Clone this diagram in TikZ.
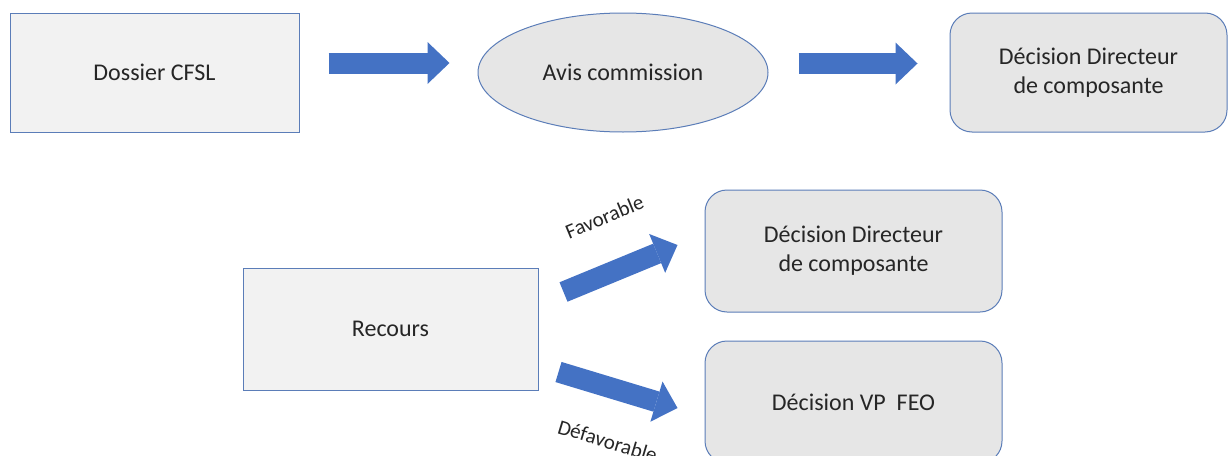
\documentclass[tikz,border=0pt]{standalone}
\usepackage{fontspec}
\setmainfont{Carlito}
\usepackage{xcolor}
\usetikzlibrary{arrows.meta, calc, shapes.geometric}
\definecolor{boxline}{HTML}{5B7DB8}
\definecolor{lightbox}{HTML}{F2F2F2}
\definecolor{graybox}{HTML}{E6E6E6}
\definecolor{arrblue}{HTML}{4472C4}
\definecolor{txtgray}{HTML}{262626}
\tikzset{
  % plain square box
  plainbox/.style={
    draw=boxline
    , fill=lightbox
    , line width=1pt
    , inner sep=0pt
    , text=txtgray
    , font=\fontsize{24}{29}\selectfont
    , align=center
  },
}
\tikzset{
  % rounded decision box
  decbox/.style={
    plainbox
    , fill=graybox
    , rounded corners=22pt
  },
}
\tikzset{
  % commission ellipse
  avisell/.style={
    plainbox
    , ellipse
    , fill=graybox
  },
}
\tikzset{
  % block arrow
  barr/.style={
    draw=arrblue
    , line width=21pt
    , -{Triangle[length=22pt, width=42pt, line width=0pt]}
  },
}
\tikzset{
  % label on a block arrow
  arrlab/.style={
    text=txtgray
    , inner sep=0pt
    , font=\fontsize{21}{25}\selectfont
    , sloped
    , pos=0.54
  },
}

\begin{document}
\begin{tikzpicture}[x=1pt, y=-1pt]
        \useasboundingbox (0,0) rectangle (1228,455);
        % first row
        \node[plainbox, minimum width=289pt, minimum height=119pt]
          (dossier) at (154.5,72.5) {Dossier CFSL};
        \node[avisell, minimum width=290pt, minimum height=119pt]
          (avis) at (623,72.5) {Avis commission};
        \node[decbox, minimum width=277pt, minimum height=119pt]
          (decA) at (1088.5,72.5) {Décision Directeur\\de composante};
        % second row
        \node[plainbox, minimum width=295pt, minimum height=122pt]
          (recours) at (390.5,329) {Recours};
        \node[decbox, minimum width=297pt, minimum height=122pt]
          (decB) at (853.5,251) {Décision Directeur\\de composante};
        \node[decbox, minimum width=297pt, minimum height=122pt]
          (decC) at (853.5,402) {Décision VP\ \ FEO};
        % arrows
        \draw[barr]
          ($(dossier.east)+(29,-9.5)$)
          to
          ($(avis.west)+(-28,-9.5)$);
        \draw[barr]
          ($(avis.east)+(30,-9)$)
          to
          ($(decA.west)+(-32,-9)$);
        \draw[barr]
          ($(recours.east)+(25,-37)$)
          to node[arrlab, above=36pt] {Favorable}
          ($(decB.west)+(-27,-6)$);
        \draw[barr]
          ($(recours.east)+(20,43)$)
          to node[arrlab, below=34pt] {Défavorable}
          ($(decC.west)+(-27,6)$);
      \end{tikzpicture}
\end{document}
